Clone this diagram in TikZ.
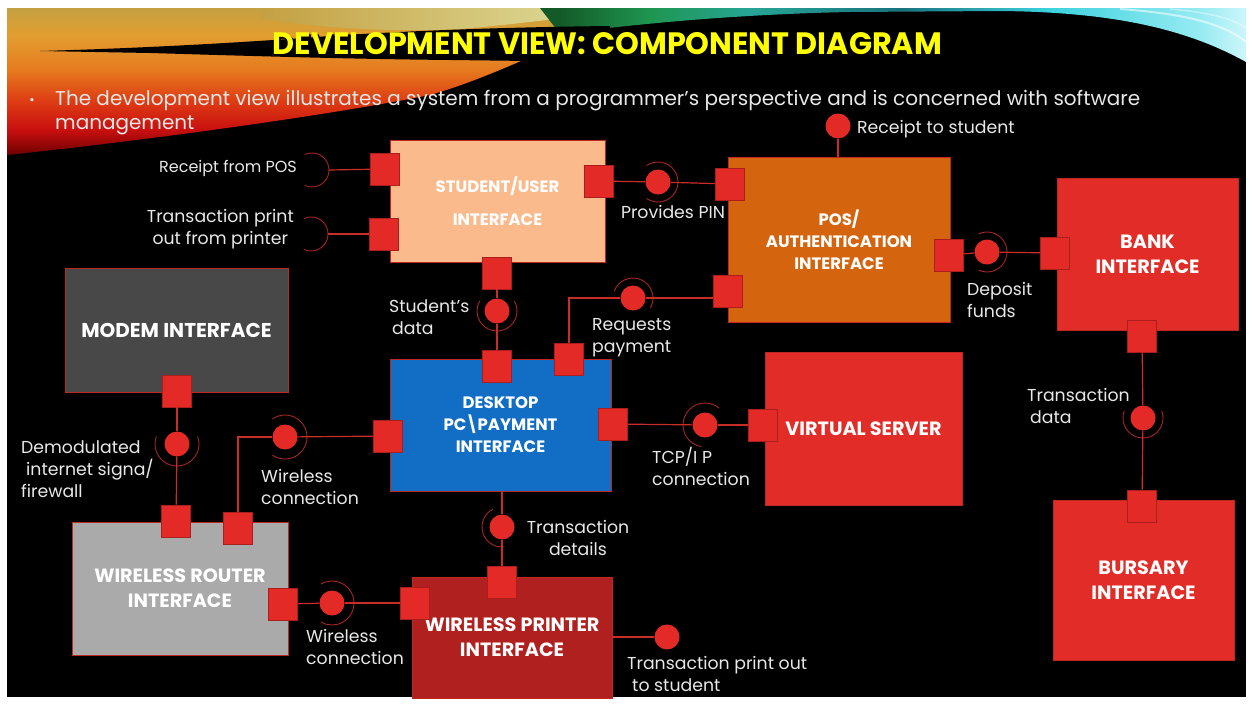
\documentclass[tikz,border=0pt]{standalone}
\usepackage{fontspec}
\usepackage{graphicx}
\setmainfont{Poppins}
\usetikzlibrary{calc}
\definecolor{peach}{RGB}{250,186,140}
\definecolor{posorange}{RGB}{212,100,14}
\definecolor{boxred}{RGB}{226,44,40}
\definecolor{portred}{RGB}{228,42,38}
\definecolor{portedge}{RGB}{170,30,28}
\definecolor{printred}{RGB}{176,32,30}
\definecolor{deskblue}{RGB}{18,110,196}
\definecolor{modemgray}{RGB}{72,72,72}
\definecolor{routergray}{RGB}{170,170,170}
\definecolor{compedge}{RGB}{190,40,35}
\definecolor{wirered}{RGB}{200,45,40}
\definecolor{sockred}{RGB}{165,38,34}
\definecolor{lblgray}{RGB}{232,232,232}
\definecolor{titleyellow}{RGB}{255,255,0}
\definecolor{w1}{RGB}{110,0,0}
\definecolor{w2}{RGB}{200,15,15}
\definecolor{w3}{RGB}{222,62,20}
\definecolor{w4}{RGB}{230,122,30}
\definecolor{w5}{RGB}{226,158,48}
\definecolor{w6}{RGB}{196,160,66}
\definecolor{pale}{RGB}{225,228,165}
\definecolor{t1}{RGB}{20,90,40}
\definecolor{t2}{RGB}{30,150,80}
\definecolor{t3}{RGB}{40,165,150}
\definecolor{t4}{RGB}{25,115,125}
\definecolor{t5}{RGB}{60,210,222}
\definecolor{t6}{RGB}{150,235,242}
\definecolor{t7}{RGB}{205,246,250}
\pgfdeclareverticalshading{warmshade}{100bp}{color(0bp)=(w1); color(25bp)=(w1); color(33.5bp)=(w2); color(43.7bp)=(w3); color(53.9bp)=(w4); color(65.8bp)=(w5); color(75bp)=(w6); color(100bp)=(w6)}
\pgfdeclarehorizontalshading{tealshade}{100bp}{color(0bp)=(t1); color(26.4bp)=(t1); color(32.8bp)=(t2); color(39.9bp)=(t3); color(50.5bp)=(t4); color(61bp)=(t5); color(71.7bp)=(t6); color(75bp)=(t7); color(100bp)=(t7)}
\newcommand\lblfont{\fontsize{17.3}{22}\selectfont}
\newcommand\cfs{\bfseries\fontsize{16.5}{22}\selectfont}
\newcommand\cfl{\bfseries\fontsize{19.2}{25}\selectfont}
\newcommand\cfm{\bfseries\fontsize{20}{24}\selectfont}
\tikzset{
  comp/.style={rectangle, draw=compedge, line width=0.8pt, text=white, align=center, inner sep=0pt},
  port/.style={rectangle, fill=portred, draw=portedge, line width=0.6pt, minimum width=29pt, minimum height=32pt, inner sep=0pt},
  ball/.style={circle, fill=portred, minimum size=25pt, inner sep=0pt},
  wire/.style={draw=wirered, line width=1.2pt},
  sock/.style={draw=sockred, line width=0.9pt},
  lbl/.style={text=lblgray, font=\lblfont, inner sep=0pt}
}
\begin{document}
\begin{tikzpicture}[x=1pt,y=-1pt]
\useasboundingbox (0,0) rectangle (1253,704);
\fill[white] (0,0) rectangle (1253,704);
\fill[black] (7,8) rectangle (1246,697);
% decoration
\shade[shading=warmshade] (7,8) -- (650,8) .. controls (560,40) and (500,75) .. (430,95) .. controls (330,115) and (150,140) .. (7,155) -- cycle;
\shade[left color=w6, right color=pale] (260,8) -- (640,8) .. controls (580,16) and (520,24) .. (460,29) .. controls (380,33) and (300,26) .. (260,18) -- cycle;
\shade[shading=tealshade] (540,8) -- (1246,8) -- (1246,62) .. controls (1180,25) and (1100,12) .. (1000,11) -- (850,12) .. controls (750,14) and (650,22) .. (560,34) -- cycle;
\fill[black] (40,51) .. controls (150,48) and (250,42) .. (330,36) .. controls (420,30) and (520,27) .. (610,26) -- (610,62) -- (450,60) .. controls (350,59) and (250,56) .. (150,53) -- cycle;
\draw[white, opacity=0.55, line width=2pt] (1120,9) .. controls (1190,14) and (1225,25) .. (1246,42);
\draw[white, opacity=0.4, line width=1.5pt] (1170,9) .. controls (1215,13) and (1235,20) .. (1246,28);
% title
\node[inner sep=0pt, text=black, font=\bfseries] (titleshadow) at (609.5,46) {\resizebox{669pt}{22pt}{DEVELOPMENT VIEW: COMPONENT DIAGRAM}};
\node[inner sep=0pt, text=titleyellow, font=\bfseries] (title) at (607.5,44) {\resizebox{669pt}{22pt}{DEVELOPMENT VIEW: COMPONENT DIAGRAM}};
\node[inner sep=0pt, text=lblgray, font=\fontsize{13}{13}\selectfont] (bullet) at (32,102) {•};
\node[inner sep=0pt, anchor=west, text=lblgray] (body) at (55,113) {\resizebox{1085pt}{!}{\fontsize{19}{23}\selectfont\begin{tabular}{@{}l@{}}The development view illustrates a system from a programmer’s perspective and is concerned with software\\management\end{tabular}}};
% components
\node[comp, fill=peach, minimum width=215pt, minimum height=122pt, font=\cfs] (student) at (497.5,201) {STUDENT/USER\\[11pt]INTERFACE};
\node[comp, fill=posorange, minimum width=222pt, minimum height=165pt, font=\cfs] (pos) at (839,240) {POS/\\AUTHENTICATION\\INTERFACE};
\node[comp, fill=boxred, minimum width=181pt, minimum height=152pt, font=\cfl] (bank) at (1147.5,254) {BANK\\INTERFACE};
\node[comp, fill=modemgray, minimum width=223pt, minimum height=124pt, font=\cfm] (modem) at (176.5,330) {MODEM INTERFACE};
\node[comp, fill=deskblue, minimum width=221pt, minimum height=132pt, font=\cfs] (desktop) at (500.5,425) {DESKTOP\\PC\kern-1pt\textbackslash\kern-1pt PAYMENT\\INTERFACE};
\node[comp, fill=boxred, minimum width=197pt, minimum height=153pt, font=\cfl] (virtual) at (863.5,428.5) {VIRTUAL SERVER};
\node[comp, fill=routergray, minimum width=216pt, minimum height=133pt, font=\cfl] (router) at (180,588.5) {WIRELESS ROUTER\\INTERFACE};
\node[comp, fill=printred, minimum width=200pt, minimum height=121pt, font=\cfl] (printer) at (512,637.5) {WIRELESS PRINTER\\INTERFACE};
\node[comp, fill=boxred, minimum width=181pt, minimum height=160pt, font=\cfl] (bursary) at (1143.5,580) {BURSARY\\INTERFACE};
% ports
\node[port] (sl1) at (385,169) {};
\node[port] (sl2) at (384,234) {};
\node[port] (sr) at (599,181) {};
\node[port] (sb) at (497,273) {};
\node[port] (pl1) at (730,184) {};
\node[port] (pl2) at (728,291) {};
\node[port] (pr) at (949,255) {};
\node[port] (bl) at (1055,253) {};
\node[port] (bb) at (1142,336) {};
\node[port] (but) at (1142,506) {};
\node[port] (dt1) at (497,366) {};
\node[port] (dt2) at (569,359) {};
\node[port] (dl) at (388,436) {};
\node[port] (dr) at (613,424) {};
\node[port] (vl) at (763,425) {};
\node[port] (mb) at (177,391) {};
\node[port] (rt1) at (176,521) {};
\node[port] (rt2) at (238,528) {};
\node[port] (rr) at (283,604) {};
\node[port] (prt) at (502,582) {};
\node[port] (prl) at (415,603) {};
% balls
\node[ball] (rts) at (838,126) {};
\node[ball] (prov) at (658,182) {};
\node[ball] (req) at (633,298) {};
\node[ball] (sd) at (497,311) {};
\node[ball] (dep) at (987,252) {};
\node[ball] (td) at (1143,418) {};
\node[ball] (tcp) at (705,425) {};
\node[ball] (tdet) at (502,527) {};
\node[ball] (dm) at (177,444) {};
\node[ball] (wa) at (285,437) {};
\node[ball] (wb) at (332,603) {};
\node[ball] (pout) at (667,637) {};
\coordinate (rfp) at (312,170);
\coordinate (tpo) at (311,234);
% sockets
\draw[sock] (rfp) ++(-115:17) arc[start angle=-115, end angle=115, radius=17];
\draw[sock] (tpo) ++(-115:17) arc[start angle=-115, end angle=115, radius=17];
\draw[sock] (prov) ++(-125:20) arc[start angle=-125, end angle=125, radius=20];
\draw[sock] (req) ++(200:20) arc[start angle=200, end angle=390, radius=20];
\draw[sock] (sd) ++(-30:20) arc[start angle=-30, end angle=210, radius=20];
\draw[sock] (dep) ++(-115:20) arc[start angle=-115, end angle=115, radius=20];
\draw[sock] (td) ++(-20:20) arc[start angle=-20, end angle=200, radius=20];
\draw[sock] (tcp) ++(100:22) arc[start angle=100, end angle=310, radius=22];
\draw[sock] (tdet) ++(85:20) arc[start angle=85, end angle=243, radius=20];
\draw[sock] (dm) ++(-20:22) arc[start angle=-20, end angle=200, radius=22];
\draw[sock] (wa) ++(-125:22) arc[start angle=-125, end angle=125, radius=22];
\draw[sock] (wb) ++(-120:22) arc[start angle=-120, end angle=120, radius=22];
% wires
\draw[wire] ($(rfp)+(17,0)$) -- (sl1);
\draw[wire] ($(tpo)+(17,0)$) -- (sl2);
\draw[wire] (sr) -- (prov);
\draw[wire] (prov) -- (pl1);
\draw[wire] (dt2) |- (req);
\draw[wire] (req) -- (req -| pl2.west);
\draw[wire] (sb) -- (sd);
\draw[wire] (sd) -- (dt1);
\draw[wire] (pr) -- (dep);
\draw[wire] (dep) -- (bl);
\draw[wire] (bb) -- (td);
\draw[wire] (td) -- (but);
\draw[wire] (dr) -- (tcp);
\draw[wire] (tcp) -- (vl);
\draw[wire] (desktop.south -| tdet) -- (tdet);
\draw[wire] (tdet) -- (prt);
\draw[wire] (printer.east |- pout) -- (pout);
\draw[wire] (rts) -- (rts |- pos.north);
\draw[wire] (mb) -- (dm);
\draw[wire] (dm) -- (rt1);
\draw[wire] (rt2) |- (wa);
\draw[wire] (wa) -- (dl);
\draw[wire] (rr) -- (wb);
\draw[wire] (wb) -- (prl);
% labels
\node[lbl, anchor=east, font=\fontsize{16}{22}\selectfont] (lrfp) at (297,168) {Receipt from POS};
\node[lbl, anchor=east, align=center] (ltpo) at (294,229) {Transaction print\\out from printer};
\node[lbl] (lprov) at (673,212) {Provides PIN};
\node[lbl, anchor=west] (lrts) at (857,129) {Receipt to student};
\node[lbl, anchor=west, align=left] (lsd) at (389,317) {Student’s\\\hspace{3pt}data};
\node[lbl, anchor=west, align=left] (lreq) at (592,338) {Requests\\payment};
\node[lbl, anchor=west, align=left] (ldep) at (967,300) {Deposit\\funds};
\node[lbl, anchor=west, align=left] (ltd) at (1027,406) {Transaction\\\hspace{3pt}data};
\node[lbl, anchor=west, align=left] (ltcp) at (652,466) {TCP/I P\\connection};
\node[lbl, align=center] (ltdet) at (578,538) {Transaction\\details};
\node[lbl, anchor=west, align=left] (lpout) at (627,674) {Transaction print out\\\hspace{5pt}to student};
\node[lbl, anchor=west, align=left] (ldm) at (21,469) {Demodulated\\\hspace{5pt}internet signa/\\firewall};
\node[lbl, anchor=west, align=left] (lwa) at (261,487) {Wireless\\connection};
\node[lbl, anchor=west, align=left] (lwb) at (306,647) {Wireless\\connection};
\end{tikzpicture}
\end{document}
